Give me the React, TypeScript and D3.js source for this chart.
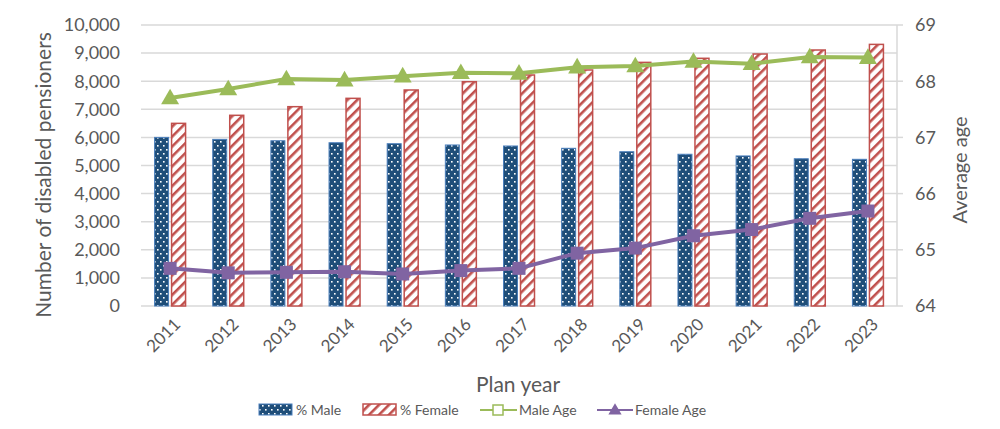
import React from "react";
import * as d3 from "d3";

const years = ["2011","2012","2013","2014","2015","2016","2017","2018","2019","2020","2021","2022","2023"];
const maleCount = [6000, 5930, 5880, 5810, 5775, 5730, 5694, 5612, 5490, 5400, 5340, 5240, 5220];
const femaleCount = [6500, 6786, 7093, 7390, 7687, 7982, 8221, 8399, 8670, 8815, 8968, 9110, 9310];
const maleAge = [67.7, 67.86, 68.04, 68.02, 68.09, 68.15, 68.14, 68.25, 68.27, 68.35, 68.31, 68.43, 68.42];
const femaleAge = [64.67, 64.59, 64.6, 64.61, 64.57, 64.63, 64.67, 64.94, 65.03, 65.25, 65.36, 65.56, 65.69];
const leftTicks = [0, 1000, 2000, 3000, 4000, 5000, 6000, 7000, 8000, 9000, 10000];
const rightTicks = [64, 65, 66, 67, 68, 69];
const legendItems = ["% Male", "% Female", "Male Age", "Female Age"];

const W = 1000, H = 429;
const L = 141, R = 897, T = 25, B = 306;
const FONT = "Lato, 'Open Sans', 'Noto Sans', sans-serif";
const TXT = "#595959";
const NAVY = "#1F4E79";
const RED = "#C0504D";
const GREEN = "#9BBB59";
const PURPLE = "#8064A2";

export default function App() {
  const x = d3.scaleBand<string>().domain(years).range([L, R]).paddingInner(0).paddingOuter(0);
  const yL = d3.scaleLinear().domain([0, 10000]).range([B, T]);
  const yR = d3.scaleLinear().domain([64, 69]).range([B, T]);
  const bw = 14, gap = 3;
  const cx = (y: string) => (x(y) as number) + x.bandwidth() / 2;
  const fmt = d3.format(",");
  const lineM = d3.line<number>().x((_, i) => cx(years[i])).y((d) => yR(d));
  const gridVals = d3.range(0, 10001, 1000);

  const tri = (px: number, py: number, s: number) =>
    `M${px},${py - s * 0.62}L${px + s * 0.6},${py + s * 0.42}L${px - s * 0.6},${py + s * 0.42}Z`;

  return (
    <svg width={W} height={H} style={{ position: "absolute", left: 0, top: 0, background: "#fff" }}>
      <defs>
        <pattern id="dots" width="6" height="8" patternUnits="userSpaceOnUse">
          <rect width="6" height="8" fill={NAVY} />
          <rect x="1" y="1" width="1.6" height="1.6" fill="#ffffff" />
          <rect x="4" y="5" width="1.6" height="1.6" fill="#ffffff" />
        </pattern>
        <pattern id="stripes" width="7" height="7" patternUnits="userSpaceOnUse" patternTransform="rotate(45)">
          <rect width="7" height="7" fill="#ffffff" />
          <rect x="0" y="0" width="2.6" height="7" fill={RED} />
        </pattern>
      </defs>
      <rect width={W} height={H} fill="#fff" />
      {gridVals.map((v) => (
        <line key={v} x1={L} x2={R} y1={yL(v)} y2={yL(v)} stroke="#d9d9d9" strokeWidth={1.5} />
      ))}
      <line x1={R} x2={R} y1={T} y2={B} stroke="#d9d9d9" strokeWidth={1.5} />
      {rightTicks.map((v) => (
        <line key={v} x1={R} x2={R + 6} y1={yR(v)} y2={yR(v)} stroke="#d9d9d9" strokeWidth={1.5} />
      ))}
      {years.map((yr, i) => (
        <g key={yr}>
          <rect x={cx(yr) - gap / 2 - bw} y={yL(maleCount[i])} width={bw} height={B - yL(maleCount[i])}
            fill="url(#dots)" stroke="#4A7EBB" strokeWidth={1} />
          <rect x={cx(yr) + gap / 2} y={yL(femaleCount[i])} width={bw} height={B - yL(femaleCount[i])}
            fill="url(#stripes)" stroke={RED} strokeWidth={1.5} />
        </g>
      ))}
      <path d={lineM(maleAge) || ""} fill="none" stroke={GREEN} strokeWidth={4} strokeLinejoin="round" />
      {maleAge.map((v, i) => (
        <path key={i} d={tri(cx(years[i]), yR(v), 15)} fill={GREEN} />
      ))}
      <path d={lineM(femaleAge) || ""} fill="none" stroke={PURPLE} strokeWidth={4} strokeLinejoin="round" />
      {femaleAge.map((v, i) => (
        <rect key={i} x={cx(years[i]) - 6.5} y={yR(v) - 6.5} width={13} height={13} fill={PURPLE} />
      ))}
      {leftTicks.map((v) => (
        <text key={v} x={120} y={yL(v)} dy="0.35em" textAnchor="end" fontFamily={FONT} fontSize={18} fill={TXT}>
          {fmt(v)}
        </text>
      ))}
      {rightTicks.map((v) => (
        <text key={v} x={915} y={yR(v)} dy="0.35em" textAnchor="start" fontFamily={FONT} fontSize={18} fill={TXT}>
          {v}
        </text>
      ))}
      {years.map((yr) => (
        <text key={yr} transform={`translate(${cx(yr) + 3},${317}) rotate(-45)`} textAnchor="end" dy="0.7em"
          fontFamily={FONT} fontSize={17} fill={TXT}>
          {yr}
        </text>
      ))}
      <text transform={`translate(51,175) rotate(-90)`} textAnchor="middle" fontFamily={FONT} fontSize={21} fill={TXT}>
        Number of disabled pensioners
      </text>
      <text transform={`translate(967,170) rotate(-90)`} textAnchor="middle" fontFamily={FONT} fontSize={20} fill={TXT}>
        Average age
      </text>
      <text x={518} y={392} textAnchor="middle" fontFamily={FONT} fontSize={21} fill={TXT}>
        Plan year
      </text>
      <g fontFamily={FONT} fontSize={14} fill={TXT}>
        <rect x={259} y={404} width={33} height={11} fill="url(#dots)" stroke="#4A7EBB" strokeWidth={1} />
        <text x={296} y={410} dy="0.35em">{legendItems[0]}</text>
        <rect x={363} y={404} width={33} height={11} fill="url(#stripes)" stroke={RED} strokeWidth={1.5} />
        <text x={400} y={410} dy="0.35em">{legendItems[1]}</text>
        <line x1={480} x2={517} y1={410} y2={410} stroke={GREEN} strokeWidth={2} />
        <rect x={493} y={405} width={10} height={10} fill="#fff" stroke={GREEN} strokeWidth={1.5} />
        <text x={519} y={410} dy="0.35em">{legendItems[2]}</text>
        <line x1={597} x2={633} y1={410} y2={410} stroke={PURPLE} strokeWidth={2} />
        <path d={tri(615, 410, 11)} fill={PURPLE} />
        <text x={635} y={410} dy="0.35em">{legendItems[3]}</text>
      </g>
    </svg>
  );
}
